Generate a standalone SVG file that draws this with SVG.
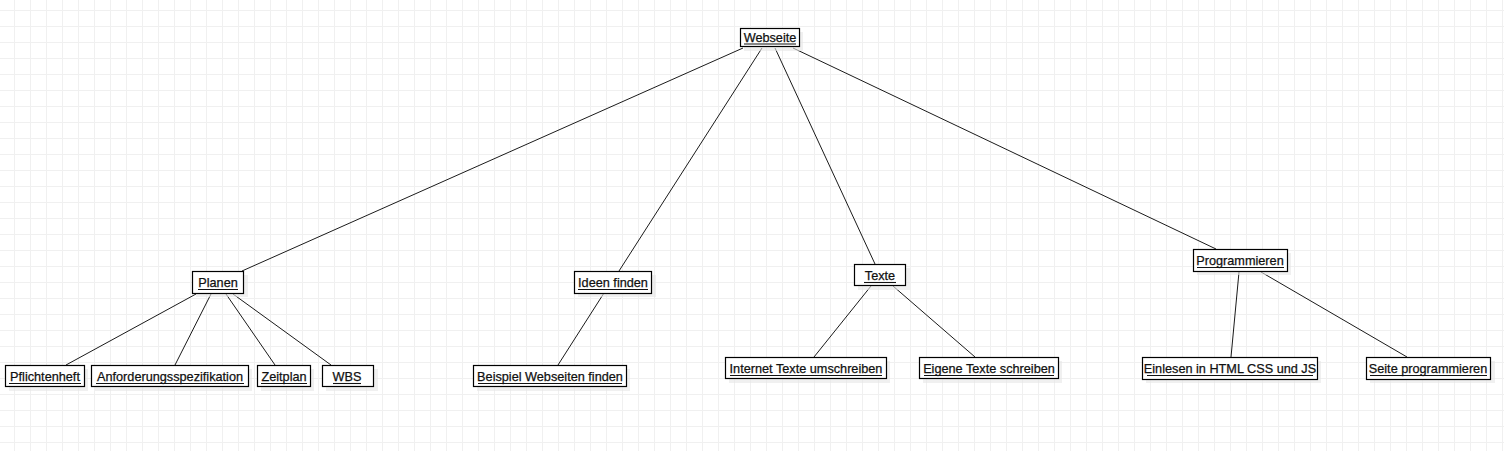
<svg xmlns="http://www.w3.org/2000/svg" width="1504" height="451" viewBox="0 0 1504 451">
<style>
.box{fill:#fff;stroke:#000;stroke-width:1.2}
.sh{fill:#e6e6e6;opacity:0.6}
.lbl{font-family:"Liberation Sans",Arial,sans-serif;font-size:12.7px;fill:#111;stroke:#111;stroke-width:0.25;text-anchor:middle}
.ul{stroke:#111;stroke-width:1.1}
.ul2{stroke:#aaa;stroke-width:1}
#connectors line{stroke:#000;stroke-width:0.9}
</style>
<defs>
<pattern id="grid" width="16" height="16" patternUnits="userSpaceOnUse" x="14" y="10">
<path d="M0.5 0V16M0 0.5H16" fill="none" stroke="#f0f0f0" stroke-width="1"/>
</pattern>
</defs>
<rect width="1504" height="451" fill="#fff"/>
<rect width="1504" height="451" fill="url(#grid)"/>
<g id="connectors">
<line x1="743" y1="48" x2="242" y2="271"/>
<line x1="762" y1="48" x2="619" y2="271"/>
<line x1="775" y1="48" x2="875" y2="264"/>
<line x1="793" y1="48" x2="1216" y2="249"/>
<line x1="196" y1="294" x2="66" y2="365"/>
<line x1="211" y1="294" x2="175" y2="365"/>
<line x1="226" y1="294" x2="275" y2="365"/>
<line x1="233" y1="294" x2="331" y2="365"/>
<line x1="604" y1="293" x2="558" y2="365"/>
<line x1="871" y1="286" x2="814" y2="357"/>
<line x1="893" y1="286" x2="975" y2="357"/>
<line x1="1239" y1="272" x2="1231" y2="357"/>
<line x1="1261" y1="272" x2="1407" y2="357"/>
</g>
<g id="n-webseite">
<rect class="sh" x="744" y="32" width="59" height="19"/>
<rect class="box" x="740.5" y="28.5" width="59" height="18"/>
<text class="lbl" x="770" y="42">Webseite</text>
<line class="ul" x1="744" y1="44" x2="796" y2="44"/>
</g>
<g id="n-planen">
<rect class="sh" x="196" y="275" width="52" height="22"/>
<rect class="box" x="192.5" y="271.5" width="51" height="22"/>
<text class="lbl" x="218" y="287">Planen</text>
<line class="ul" x1="198" y1="289.5" x2="238" y2="289.5"/>
</g>
<g id="n-ideen">
<rect class="sh" x="578" y="275" width="78" height="22"/>
<rect class="box" x="574.5" y="271.5" width="77" height="22"/>
<text class="lbl" x="613" y="287">Ideen finden</text>
<line class="ul" x1="578" y1="289.5" x2="648" y2="289.5"/>
</g>
<g id="n-texte">
<rect class="sh" x="858" y="268" width="52" height="22"/>
<rect class="box" x="854.5" y="264.5" width="51" height="21"/>
<text class="lbl" x="880" y="280">Texte</text>
<line class="ul" x1="864" y1="282.5" x2="896" y2="282.5"/>
</g>
<g id="n-programmieren">
<rect class="sh" x="1197" y="253" width="94" height="22"/>
<rect class="box" x="1193.5" y="249.5" width="94" height="22"/>
<text class="lbl" x="1240" y="265">Programmieren</text>
<line class="ul" x1="1197" y1="267.5" x2="1284" y2="267.5"/>
</g>
<g id="n-pflichtenheft">
<rect class="sh" x="9" y="369" width="79" height="22"/>
<rect class="box" x="5.5" y="365.5" width="79" height="21"/>
<text class="lbl" x="45" y="381">Pflichtenheft</text>
<line class="ul" x1="9" y1="383.5" x2="81" y2="383.5"/>
</g>
<g id="n-anforderung">
<rect class="sh" x="95" y="369" width="157" height="22"/>
<rect class="box" x="91.5" y="365.5" width="157" height="21"/>
<text class="lbl" x="170" y="381">Anforderungsspezifikation</text>
<line class="ul" x1="96" y1="383.5" x2="244" y2="383.5"/>
</g>
<g id="n-zeitplan">
<rect class="sh" x="261" y="369" width="53" height="22"/>
<rect class="box" x="257.5" y="365.5" width="53" height="21"/>
<text class="lbl" x="284" y="381">Zeitplan</text>
<line class="ul" x1="261" y1="383.5" x2="307" y2="383.5"/>
</g>
<g id="n-wbs">
<rect class="sh" x="326" y="369" width="52" height="22"/>
<rect class="box" x="322.5" y="365.5" width="51" height="21"/>
<text class="lbl" x="347" y="381">WBS</text>
<line class="ul" x1="333" y1="383.5" x2="361" y2="383.5"/>
</g>
<g id="n-beispiel">
<rect class="sh" x="477" y="369" width="153" height="22"/>
<rect class="box" x="473.5" y="365.5" width="153" height="21"/>
<text class="lbl" x="550" y="381">Beispiel Webseiten finden</text>
<line class="ul" x1="478" y1="383.5" x2="622" y2="383.5"/>
</g>
<g id="n-internet">
<rect class="sh" x="729" y="361" width="161" height="22"/>
<rect class="box" x="725.5" y="357.5" width="161" height="21"/>
<text class="lbl" x="806" y="373">Internet Texte umschreiben</text>
<line class="ul" x1="730" y1="375.5" x2="882" y2="375.5"/>
</g>
<g id="n-eigene">
<rect class="sh" x="923" y="361" width="139" height="22"/>
<rect class="box" x="919.5" y="357.5" width="139" height="21"/>
<text class="lbl" x="989" y="373">Eigene Texte schreiben</text>
<line class="ul" x1="924" y1="375.5" x2="1054" y2="375.5"/>
</g>
<g id="n-einlesen">
<rect class="sh" x="1146" y="361" width="175" height="22"/>
<rect class="box" x="1142.5" y="357.5" width="175" height="22"/>
<text class="lbl" x="1230" y="373">Einlesen in HTML CSS und JS</text>
<line class="ul" x1="1147" y1="375.5" x2="1313" y2="375.5"/>
</g>
<g id="n-seite">
<rect class="sh" x="1370" y="361" width="125" height="22"/>
<rect class="box" x="1366.5" y="357.5" width="124" height="22"/>
<text class="lbl" x="1428" y="373">Seite programmieren</text>
<line class="ul" x1="1370" y1="375.5" x2="1487" y2="375.5"/>
</g>
</svg>
